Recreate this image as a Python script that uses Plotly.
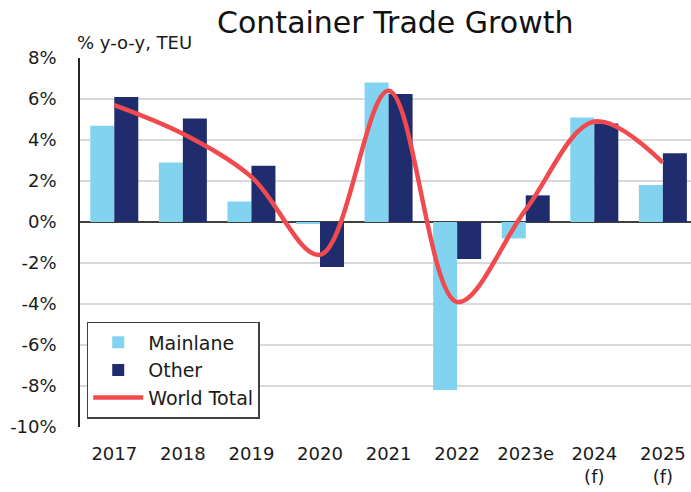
import plotly.graph_objects as go

categories = ["2017", "2018", "2019", "2020", "2021", "2022", "2023e", "2024<br>(f)", "2025<br>(f)"]
mainlane = [4.7, 2.9, 1.0, -0.05, 6.8, -8.2, -0.8, 5.1, 1.8]
other = [6.1, 5.05, 2.75, -2.2, 6.25, -1.8, 1.3, 4.8, 3.35]
world_total = [5.7, 4.3, 2.2, -1.6, 6.4, -3.9, 0.6, 4.9, 2.9]
y_ticks = [-10, -8, -6, -4, -2, 0, 2, 4, 6, 8]
y_tick_labels = [f"{v}%" for v in y_ticks]

FONT = "DejaVu Sans"
TXT = "#1a1a1a"

fig = go.Figure()
fig.add_trace(go.Bar(x=categories, y=mainlane, name="Mainlane",
                     marker=dict(color="#82D3F0", line=dict(width=0))))
fig.add_trace(go.Bar(x=categories, y=other, name="Other",
                     marker=dict(color="#1F2D6E", line=dict(width=0))))
fig.add_trace(go.Scatter(x=categories, y=world_total, name="World Total", mode="lines",
                         line=dict(color="#F04A4F", width=4.5, shape="spline", smoothing=1.0)))

fig.update_layout(
    width=691, height=492,
    margin=dict(l=80, r=0, t=58, b=65, autoexpand=False),
    paper_bgcolor="white", plot_bgcolor="white",
    barmode="group", bargap=0.30, bargroupgap=0,
    font=dict(family=FONT, color=TXT, size=18),
    title=dict(text="Container Trade Growth", x=0.572, xanchor="center",
               xref="container", yref="container", y=0.955, yanchor="middle",
               font=dict(family=FONT, size=30, color="#111111")),
    showlegend=True,
    legend=dict(x=0.011, y=0.285, xanchor="left", yanchor="top",
                bgcolor="white", bordercolor="#404040", borderwidth=1.5,
                font=dict(family=FONT, size=19, color=TXT),
                itemwidth=50, tracegroupgap=0, traceorder="normal"),
    xaxis=dict(type="category", categoryorder="array", categoryarray=categories,
               range=[-0.5, 8.41], showgrid=False, showline=False, ticks="",
               tickfont=dict(family=FONT, size=18, color=TXT), ticklabelstandoff=14,
               automargin=False, fixedrange=True),
    yaxis=dict(range=[-10, 8], tickvals=y_ticks, ticktext=y_tick_labels,
               showgrid=True, gridcolor="#D9D9D9", gridwidth=1.5,
               zeroline=True, zerolinecolor="#404040", zerolinewidth=1.5,
               showline=True, linecolor="#262626", linewidth=1.5,
               ticks="", ticklabelstandoff=18, automargin=False,
               tickfont=dict(family=FONT, size=18, color=TXT)),
    annotations=[dict(text="% y-o-y, TEU", xref="paper", yref="paper", x=-0.008, y=1.0,
                      xanchor="left", yanchor="bottom", yshift=3, showarrow=False,
                      font=dict(family=FONT, size=18, color=TXT))],
)

fig.write_html("out.html", config={"displayModeBar": False},
               post_script="document.body.style.margin='0px';")
